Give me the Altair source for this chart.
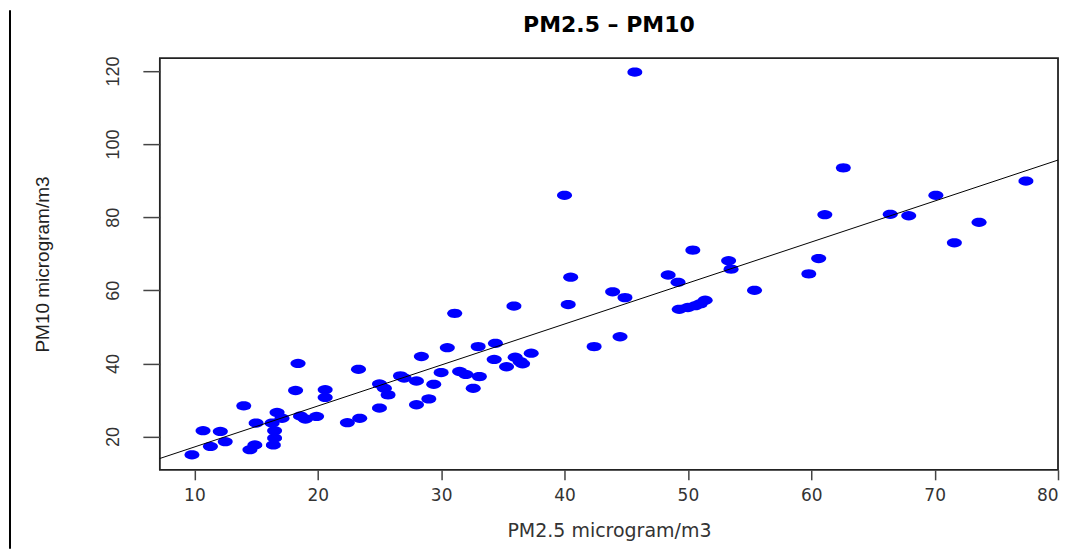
import math
import altair as alt
import pandas as pd

chart_title = "PM2.5 – PM10"
x_title = "PM2.5 microgram/m3"
y_title = "PM10 microgram/m3"
x_ticks = [10, 20, 30, 40, 50, 60, 70, 80]
y_ticks = [20, 40, 60, 80, 100, 120]

pm25 = [9.8, 10.7, 11.3, 12.1, 12.5, 14.0, 14.5, 14.9, 15.0, 16.4,
        16.5, 16.5, 16.3, 16.7, 17.1, 18.2, 18.4, 18.6, 19.0, 19.9,
        20.6, 20.6, 22.4, 23.3, 23.4, 25.0, 25.0, 25.4, 25.7, 26.7,
        27.0, 28.0, 28.4, 28.0, 29.0, 29.4, 30.0, 30.5, 31.1, 31.5,
        32.0, 32.6, 33.0, 33.1, 34.4, 34.3, 35.3, 35.9, 36.0, 36.4,
        36.6, 37.3, 40.0, 40.3, 40.5, 42.4, 43.9, 44.5, 44.9, 45.7,
        48.4, 49.2, 49.3, 50.0, 50.4, 50.6, 51.0, 51.4, 53.3, 53.5,
        55.4, 59.8, 60.6, 61.1, 62.6, 66.4, 67.9, 70.1, 71.6, 73.6,
        77.4]
pm10 = [15.0, 21.6, 17.3, 21.4, 18.6, 28.4, 16.4, 17.7, 23.7, 17.7,
        19.6, 21.6, 23.7, 26.6, 25.0, 32.6, 40.0, 25.6, 24.8, 25.5,
        32.8, 30.7, 23.8, 38.4, 25.0, 27.8, 34.4, 33.2, 31.4, 36.6,
        36.0, 35.2, 41.9, 28.7, 30.3, 34.3, 37.5, 44.3, 53.7, 37.8,
        37.0, 33.2, 44.6, 36.4, 45.5, 41.1, 39.1, 55.7, 41.7, 40.5,
        39.9, 42.8, 86.0, 56.1, 63.6, 44.6, 59.6, 47.3, 58.0, 119.7,
        64.2, 62.2, 54.8, 55.3, 71.0, 55.8, 56.3, 57.3, 68.1, 65.8,
        60.0, 64.5, 68.7, 80.7, 93.5, 80.8, 80.4, 86.0, 73.0, 78.6,
        89.9]

df = pd.DataFrame({"pm25": pm25, "pm10": pm10})

X_DOMAIN = [7.2, 80]
Y_DOMAIN = [10.9, 123.5]
W, H = 899, 412

# ellipse-shaped marker (R pch 19 seen through a horizontally stretched image)
pts = []
for i in range(24):
    t = 2 * math.pi * i / 24
    pts.append(f"{math.cos(t):.3f},{0.62 * math.sin(t):.3f}")
ellipse = "M" + " L".join(pts) + " Z"

x_enc = alt.X(
    "pm25:Q",
    scale=alt.Scale(domain=X_DOMAIN, nice=False, zero=False),
    axis=alt.Axis(
        values=x_ticks, title=x_title, format="d",
        tickSize=10, tickWidth=1.5, tickColor="#444",
        labelFont="DejaVu Sans", labelFontSize=17, labelColor="#333",
        labelPadding=8, labelBaseline="top",
        titleFont="DejaVu Sans", titleFontSize=19, titleFontWeight="normal",
        titleColor="#333", titleY=67, titleBaseline="alphabetic",
        domain=False, grid=False,
    ),
)
y_enc = alt.Y(
    "pm10:Q",
    scale=alt.Scale(domain=Y_DOMAIN, nice=False, zero=False),
    axis=alt.Axis(
        values=y_ticks, title=y_title, format="d",
        tickSize=17, tickWidth=1.5, tickColor="#444",
        labelFont="Liberation Sans Narrow, Liberation Sans", labelFontSize=18,
        labelColor="#333", labelAngle=270, labelAlign="center",
        labelBaseline="bottom", labelPadding=20,
        titleFont="Liberation Sans Narrow, Liberation Sans", titleFontSize=19,
        titleFontWeight="normal", titleColor="#222", titleAngle=270,
        titleX=-107, titleY=H / 2, titleAlign="center", titleBaseline="bottom",
        domain=False, grid=False,
    ),
)

points = alt.Chart(df).mark_point(
    shape=ellipse, filled=True, size=225, color="#0000FF", opacity=1
).encode(x=x_enc, y=y_enc)

fit = alt.Chart(df).transform_regression(
    "pm25", "pm10", extent=X_DOMAIN
).mark_line(color="black", strokeWidth=1).encode(x="pm25:Q", y="pm10:Q")

one = pd.DataFrame({"k": [0]})

border = alt.Chart(one).mark_rule(
    color="black", strokeWidth=2
).encode(x=alt.value(-150), y=alt.value(-48), y2=alt.value(491))

title_mark = alt.Chart(one).mark_text(
    font="DejaVu Sans", fontSize=22, fontWeight="bold", color="black",
    align="center", baseline="alphabetic",
).encode(x=alt.value(W / 2), y=alt.value(-26), text=alt.value(chart_title))

chart = alt.layer(points, fit, border, title_mark).properties(
    width=W,
    height=H,
    background="white",
    autosize=alt.AutoSizeParams(type="none"),
    padding={"left": 152, "top": 50, "right": 8, "bottom": 80},
).configure_view(
    stroke="#222", strokeWidth=1.8
)

chart.save("out.html", embed_options={"renderer": "svg", "actions": False})
